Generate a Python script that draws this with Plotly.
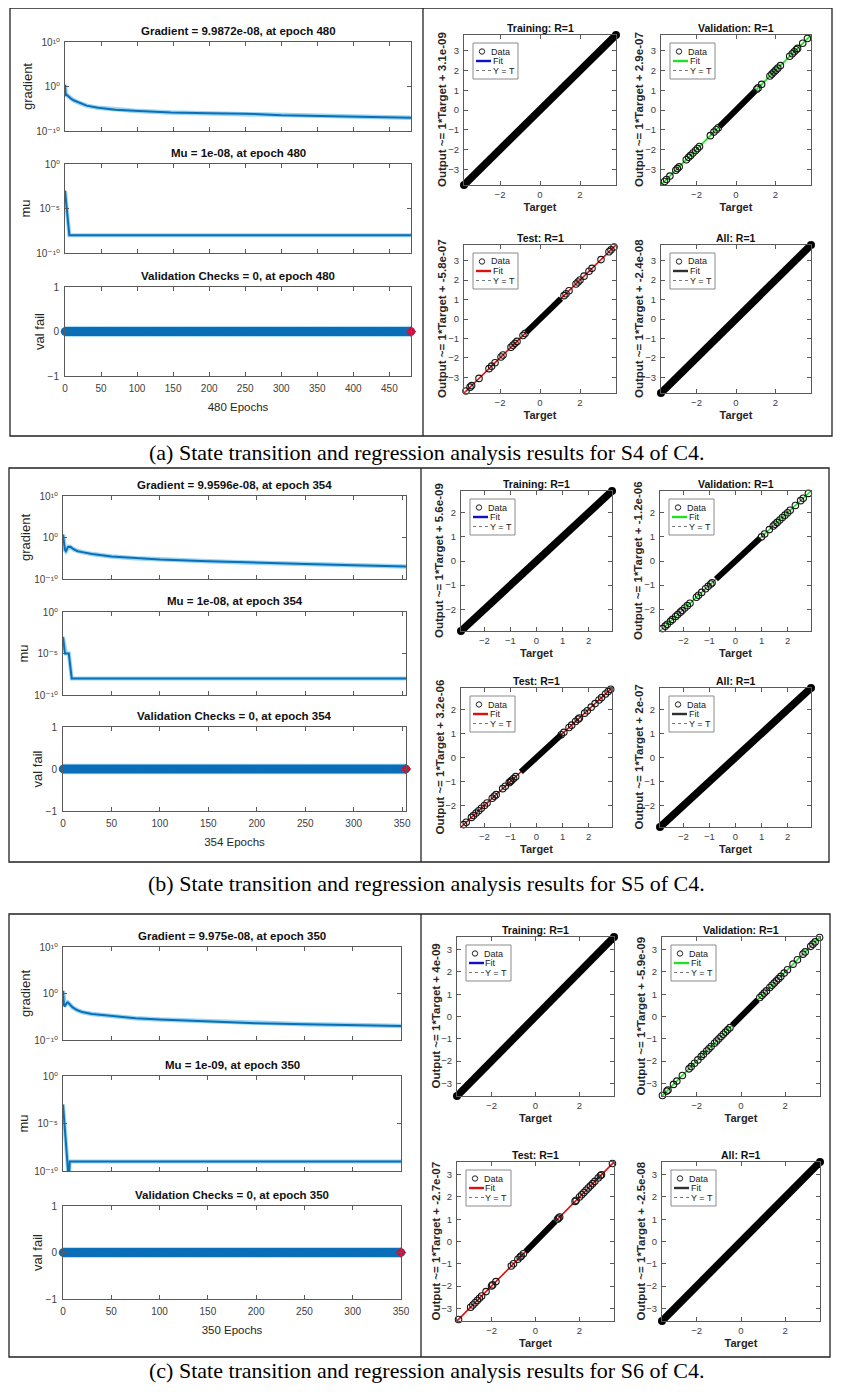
import plotly.graph_objects as go

# ======================= DATA =======================
# ---- (a) S4 of C4 ----
a_total_epochs = 480
a_xticks = [0, 50, 100, 150, 200, 250, 300, 350, 400, 450]
a_grad_epochs = [0, 1, 2, 3, 5, 8, 12, 20, 30, 46, 70, 96, 147, 200, 250, 300, 400, 480]
a_grad = [2.5, 8e-3, 1.5e-2, 1e-2, 6e-3, 2e-3, 8e-4, 2e-4, 5e-5, 1.6e-5, 6e-6, 3.5e-6,
          1.4e-6, 1e-6, 8e-7, 3.5e-7, 1.8e-7, 9.9872e-08]
a_mu_epochs = [0, 1, 2, 3, 4, 5, 6, 480]
a_mu = [1e-3, 1e-4, 1e-5, 1e-5, 1e-6, 1e-7, 1e-8, 1e-8]
a_vf_epochs = list(range(0, 481))
a_vf = [0] * 481
a_best_epoch = [480]
a_best_vf = [0]
a_range = [-3.8, 3.8]
a_reg_xticks = [-2, 0, 2]
a_reg_yticks = [-3, -2, -1, 0, 1, 2, 3]
a_train_T = [-3.8, 3.8]
a_val_T = [-3.62, -3.52, -3.35, -3.05, -2.97, -2.88, -2.52, -2.4, -2.3, -2.18, -2.05, -1.95,
           -1.85, -1.3, -1.12, -1.0, -0.9, 1.05, 1.12, 1.3, 1.72, 1.82, 1.92, 2.02, 2.12, 2.25,
           2.72, 2.85, 2.95, 3.05, 3.12, 3.38, 3.62]
a_val_dense = [-0.85, 1.0]
a_test_T = [-3.7, -3.5, -3.42, -3.05, -2.55, -2.42, -2.25, -1.95, -1.85, -1.45, -1.35, -1.25,
            -1.15, -0.85, -0.75, 1.2, 1.3, 1.45, 1.8, 1.9, 2.0, 2.2, 2.45, 2.6, 3.05, 3.45,
            3.55, 3.7]
a_test_dense = [-0.7, 1.05]
a_all_T = [-3.8, 3.8]
a_offsets = ["3.1e-09", "2.9e-07", "-5.8e-07", "-2.4e-08"]
a_titles = ["Gradient = 9.9872e-08, at epoch 480", "Mu = 1e-08, at epoch 480",
            "Validation Checks = 0, at epoch 480"]
a_caption = "(a) State transition and regression analysis results for S4 of C4."

# ---- (b) S5 of C4 ----
b_total_epochs = 354
b_xticks = [0, 50, 100, 150, 200, 250, 300, 350]
b_grad_epochs = [0, 1, 2, 3, 4, 5, 6, 7, 8, 10, 12, 15, 20, 30, 50, 75, 100, 150, 200, 250, 300, 354]
b_grad = [5, 2e-2, 1e-3, 5e-4, 2e-3, 5e-3, 6e-3, 6e-3, 5e-3, 2e-3, 1e-3, 5e-4, 3e-4, 1e-4,
          2.5e-5, 1e-5, 5e-6, 2e-6, 8e-7, 4e-7, 2e-7, 9.9596e-08]
b_mu_epochs = [0, 1, 2, 3, 4, 5, 6, 7, 8, 9, 354]
b_mu = [1e-3, 1e-4, 1e-5, 1e-5, 1e-5, 1e-5, 1e-5, 1e-6, 1e-7, 1e-8, 1e-8]
b_vf_epochs = list(range(0, 355))
b_vf = [0] * 355
b_best_epoch = [354]
b_best_vf = [0]
b_range = [-2.9, 2.9]
b_reg_xticks = [-2, -1, 0, 1, 2]
b_reg_yticks = [-2, -1, 0, 1, 2]
b_train_T = [-2.9, 2.9]
b_val_T = [-2.8, -2.7, -2.62, -2.5, -2.42, -2.3, -2.22, -2.12, -2.05, -1.95, -1.85, -1.75,
           -1.5, -1.42, -1.3, -1.15, -1.05, -0.95, -0.9, 1.0, 1.12, 1.3, 1.45, 1.52, 1.6, 1.7,
           1.8, 1.9, 2.0, 2.1, 2.3, 2.5, 2.6, 2.8]
b_val_dense = [-0.75, 0.95]
b_test_T = [-2.8, -2.7, -2.5, -2.42, -2.32, -2.22, -2.12, -2.0, -1.9, -1.7, -1.62, -1.55,
            -1.3, -1.2, -1.05, -1.0, -0.95, -0.88, -0.8, 0.95, 1.05, 1.25, 1.35, 1.5, 1.6,
            1.65, 1.85, 1.95, 2.1, 2.25, 2.4, 2.5, 2.65, 2.75, 2.85]
b_test_dense = [-0.6, 0.95]
b_all_T = [-2.9, 2.9]
b_offsets = ["5.6e-09", "-1.2e-06", "3.2e-06", "2e-07"]
b_titles = ["Gradient = 9.9596e-08, at epoch 354", "Mu = 1e-08, at epoch 354",
            "Validation Checks = 0, at epoch 354"]
b_caption = "(b) State transition and regression analysis results for S5 of C4."

# ---- (c) S6 of C4 ----
c_total_epochs = 350
c_xticks = [0, 50, 100, 150, 200, 250, 300, 350]
c_grad_epochs = [0, 1, 2, 3, 4, 5, 6, 8, 10, 15, 20, 30, 50, 75, 100, 150, 200, 250, 300, 350]
c_grad = [4, 3e-3, 2e-3, 5e-3, 1e-2, 1.2e-2, 8e-3, 3e-3, 1e-3, 2.5e-4, 1e-4, 4e-5, 1.5e-5,
          5e-6, 2.5e-6, 1e-6, 4e-7, 2.5e-7, 1.6e-7, 9.975e-08]
c_mu_epochs = [0, 6, 7, 350]
c_mu = [1e-3, 1e-11, 1e-9, 1e-9]
c_vf_epochs = list(range(0, 351))
c_vf = [0] * 351
c_best_epoch = [350]
c_best_vf = [0]
c_range = [-3.57, 3.57]
c_reg_xticks = [-2, 0, 2]
c_reg_yticks = [-3, -2, -1, 0, 1, 2, 3]
c_train_T = [-3.57, 3.57]
c_val_T = [-3.55, -3.35, -3.3, -3.05, -2.9, -2.65, -2.35, -2.25, -2.1, -1.95, -1.8, -1.7,
           -1.55, -1.45, -1.35, -1.2, -1.1, -1.0, -0.9, -0.8, -0.7, -0.6, -0.5, 0.85, 0.95,
           1.05, 1.15, 1.3, 1.4, 1.5, 1.6, 1.7, 1.8, 1.95, 2.1, 2.35, 2.55, 2.8, 2.9, 3.15,
           3.25, 3.35, 3.55]
c_val_dense = [-0.4, 0.75]
c_test_T = [-3.5, -2.95, -2.85, -2.75, -2.65, -2.55, -2.45, -2.25, -2.0, -1.95, -1.8, -1.1,
            -1.0, -0.8, -0.7, -0.65, -0.55, 1.0, 1.05, 1.1, 1.8, 1.85, 2.0, 2.1, 2.2, 2.3,
            2.4, 2.5, 2.6, 2.7, 2.85, 2.95, 3.0, 3.5]
c_test_dense = [-0.45, 0.9]
c_all_T = [-3.57, 3.57]
c_offsets = ["4e-09", "-5.9e-09", "-2.7e-07", "-2.5e-08"]
c_titles = ["Gradient = 9.975e-08, at epoch 350", "Mu = 1e-09, at epoch 350",
            "Validation Checks = 0, at epoch 350"]
c_caption = "(c) State transition and regression analysis results for S6 of C4."

reg_titles = ["Training: R=1", "Validation: R=1", "Test: R=1", "All: R=1"]
fit_colors = ["#1010c8", "#22e022", "#e01010", "#303030"]
grad_ticktext = ["10\u207b\u00b9\u2070", "10\u2070", "10\u00b9\u2070"]
mu_ticktext = ["10\u207b\u00b9\u2070", "10\u207b\u2075", "10\u2070"]

# ======================= STYLE / GEOMETRY (page pixels) =======================
PAGE_W, PAGE_H = 852, 1392
OFF = 8                       # default body margin of the html page
W, H = PAGE_W - 2 * OFF, PAGE_H - 2 * OFF
SANS = "Liberation Sans, Arial, Helvetica, DejaVu Sans, sans-serif"
SERIF = "Liberation Serif, Times New Roman, serif"
BLUE = "#0b6fb8"
HALO = "#9ad5f2"
AXC = "#5a5a5a"
TXT = "#262626"
TICKF = dict(family=SANS, size=10, color="#404040")

GEOM = {
    "a": dict(box=(10, 8, 832, 436), div=423, lx=(65, 411), grad=(42, 131), mu=(164, 253),
              vf=(287, 376), rx=[(464, 616), (661, 811)], ry=[(35, 185), (245, 393)], cap=452),
    "b": dict(box=(9, 468, 829, 862), div=421, lx=(63, 406), grad=(496, 579), mu=(612, 695),
              vf=(727, 811), rx=[(461, 612), (660, 811)], ry=[(491, 631), (688, 827)], cap=883),
    "c": dict(box=(9, 914, 830, 1357), div=421, lx=(63, 401), grad=(947, 1040), mu=(1076, 1171),
              vf=(1206, 1299), rx=[(457, 614), (662, 820)], ry=[(937, 1096), (1162, 1321)], cap=1370.5),
}

fig = go.Figure()
layout = {}
shapes = []
annots = []
n_ax = [0]


def fx(p):
    return (p - OFF) / W


def fy(p):
    return 1 - (p - OFF) / H


def add_axes(x0, x1, y0, y1, xa, ya):
    n_ax[0] += 1
    s = "" if n_ax[0] == 1 else str(n_ax[0])
    base = dict(showline=True, linecolor=AXC, linewidth=1, mirror="ticks", ticks="inside",
                ticklen=4, tickcolor=AXC, showgrid=False, zeroline=False, automargin=False,
                tickfont=TICKF)
    xd = dict(base)
    xd.update(domain=[fx(x0), fx(x1)], anchor="y" + s)
    xd.update(xa)
    yd = dict(base)
    yd.update(domain=[fy(y1), fy(y0)], anchor="x" + s)
    yd.update(ya)
    layout["xaxis" + s] = xd
    layout["yaxis" + s] = yd
    return "x" + s, "y" + s


def add_title(text, x0, x1, ytop, gap, size):
    annots.append(dict(text="<b>" + text + "</b>", x=fx((x0 + x1) / 2), y=fy(ytop - gap),
                       xref="paper", yref="paper", showarrow=False, xanchor="center",
                       yanchor="middle", font=dict(family=SANS, size=size, color="#111111")))


def add_legend(ax_left, ax_top, fit_color, w=45, h=36):
    L, T = ax_left + 9, ax_top + 8
    shapes.append(dict(type="rect", xref="paper", yref="paper", x0=fx(L), x1=fx(L + w),
                       y0=fy(T + h), y1=fy(T), line=dict(color="#8a8a8a", width=1),
                       fillcolor="white", layer="above"))
    cx, cy, r = L + 9, T + 8.5, 2.7
    shapes.append(dict(type="circle", xref="paper", yref="paper", x0=fx(cx - r), x1=fx(cx + r),
                       y0=fy(cy + r), y1=fy(cy - r), line=dict(color="#222222", width=1)))
    shapes.append(dict(type="line", xref="paper", yref="paper", x0=fx(L + 3), x1=fx(L + 18),
                       y0=fy(T + 18), y1=fy(T + 18), line=dict(color=fit_color, width=2.4)))
    shapes.append(dict(type="line", xref="paper", yref="paper", x0=fx(L + 3), x1=fx(L + 18),
                       y0=fy(T + 27.5), y1=fy(T + 27.5),
                       line=dict(color="#777777", width=1, dash="dot")))
    for txt, dy, dx in (("Data", 8.5, 16), ("Fit", 18, 17.5), ("Y = T", 27.5, 17.5)):
        annots.append(dict(text=txt, x=fx(L + dx), y=fy(T + dy), xref="paper", yref="paper",
                           xanchor="left", yanchor="middle", showarrow=False,
                           font=dict(family=SANS, size=9, color="#222222")))


def training_state(g, total, xticks, grad_ep, grad, mu_ep, mu, vf_ep, vf, best_ep, best_vf, titles):
    x0, x1 = g["lx"]
    ylab = dict(family=SANS, size=13, color=TXT)
    # gradient
    xr, yr = add_axes(x0, x1, *g["grad"],
                      dict(range=[0, total], tickvals=xticks, showticklabels=False),
                      dict(type="log", range=[-10, 10], tickvals=[1e-10, 1, 1e10],
                           ticktext=grad_ticktext, ticklabelstandoff=2,
                           title=dict(text="gradient", font=ylab, standoff=0)))
    fig.add_trace(go.Scatter(x=grad_ep, y=grad, mode="lines", line=dict(color=HALO, width=4.5),
                             xaxis=xr, yaxis=yr, showlegend=False, hoverinfo="skip"))
    fig.add_trace(go.Scatter(x=grad_ep, y=grad, mode="lines", line=dict(color=BLUE, width=2),
                             xaxis=xr, yaxis=yr, showlegend=False))
    add_title(titles[0], x0, x1, g["grad"][0], 11, 11.5)
    # mu
    xr, yr = add_axes(x0, x1, *g["mu"],
                      dict(range=[0, total], tickvals=xticks, showticklabels=False),
                      dict(type="log", range=[-10, 0], tickvals=[1e-10, 1e-5, 1],
                           ticktext=mu_ticktext, ticklabelstandoff=2,
                           title=dict(text="mu", font=ylab, standoff=2)))
    fig.add_trace(go.Scatter(x=mu_ep, y=mu, mode="lines", line=dict(color=HALO, width=4),
                             xaxis=xr, yaxis=yr, showlegend=False, hoverinfo="skip"))
    fig.add_trace(go.Scatter(x=mu_ep, y=mu, mode="lines", line=dict(color=BLUE, width=2),
                             xaxis=xr, yaxis=yr, showlegend=False))
    add_title(titles[1], x0, x1, g["mu"][0], 11, 11.5)
    # validation checks
    xr, yr = add_axes(x0, x1, *g["vf"],
                      dict(range=[0, total], tickvals=xticks, ticklabelstandoff=3,
                           title=dict(text=f"{total} Epochs",
                                      font=dict(family=SANS, size=11.5, color=TXT), standoff=9)),
                      dict(range=[-1, 1], tickvals=[-1, 0, 1], ticklabelstandoff=3,
                           title=dict(text="val fail", font=ylab, standoff=0)))
    fig.add_trace(go.Scatter(x=vf_ep, y=vf, mode="lines", line=dict(color=HALO, width=10.5),
                             cliponaxis=False, xaxis=xr, yaxis=yr, showlegend=False, hoverinfo="skip"))
    fig.add_trace(go.Scatter(x=vf_ep, y=vf, mode="lines+markers", line=dict(color=BLUE, width=2),
                             marker=dict(symbol="circle", size=8.5, color=BLUE, line=dict(width=0)),
                             cliponaxis=False, xaxis=xr, yaxis=yr, showlegend=False))
    fig.add_trace(go.Scatter(x=best_ep, y=best_vf, mode="markers",
                             marker=dict(symbol="diamond", size=8, color="#d0103a"),
                             cliponaxis=False, xaxis=xr, yaxis=yr, showlegend=False))
    add_title(titles[2], x0, x1, g["vf"][0], 11, 11.5)


def regression(x0, x1, y0, y1, rng, xt, yt, title, offset, fit_color, pts, dense, full):
    xr, yr = add_axes(x0, x1, y0, y1,
                      dict(range=rng, tickvals=xt, ticklabelstandoff=1,
                           tickfont=dict(family=SANS, size=9.5, color="#404040"),
                           title=dict(text="<b>Target</b>", font=dict(family=SANS, size=11, color=TXT),
                                      standoff=3)),
                      dict(range=rng, tickvals=yt, ticklabelstandoff=2,
                           tickfont=dict(family=SANS, size=9.5, color="#404040")))
    # y-axis label of the regression panel (placed close to the tick labels as in MATLAB)
    annots.append(dict(text="<b>Output ~= 1*Target + " + offset + "</b>", x=fx(x0 - 22),
                       y=fy((y0 + y1) / 2), xref="paper", yref="paper", textangle=-90,
                       showarrow=False, xanchor="center", yanchor="middle",
                       font=dict(family=SANS, size=11.5, color=TXT)))
    fig.add_trace(go.Scatter(x=rng, y=rng, mode="lines", line=dict(color="#777777", width=1, dash="dot"),
                             xaxis=xr, yaxis=yr, showlegend=False, hoverinfo="skip"))
    fig.add_trace(go.Scatter(x=rng, y=rng, mode="lines", line=dict(color=fit_color, width=1.6),
                             xaxis=xr, yaxis=yr, showlegend=False))
    band = pts if full else dense
    fig.add_trace(go.Scatter(x=band, y=band, mode="lines", line=dict(color="#000000", width=7.5 if full else 6),
                             cliponaxis=False, xaxis=xr, yaxis=yr, showlegend=False))
    if full:
        fig.add_trace(go.Scatter(x=pts, y=pts, mode="markers",
                                 marker=dict(symbol="circle", size=8, color="#000000"),
                                 cliponaxis=False, xaxis=xr, yaxis=yr, showlegend=False))
    else:
        fig.add_trace(go.Scatter(x=pts, y=pts, mode="markers",
                                 marker=dict(symbol="circle-open", size=6.5, color="#151515",
                                             line=dict(width=1.1)),
                                 cliponaxis=False, xaxis=xr, yaxis=yr, showlegend=False))
    add_title(title, x0, x1, y0, 7, 10.5)
    add_legend(x0, y0, fit_color)


panels = [
    ("a", a_total_epochs, a_xticks, a_grad_epochs, a_grad, a_mu_epochs, a_mu, a_vf_epochs, a_vf,
     a_best_epoch, a_best_vf, a_titles, a_range, a_reg_xticks, a_reg_yticks,
     [a_train_T, a_val_T, a_test_T, a_all_T], [None, a_val_dense, a_test_dense, None], a_offsets, a_caption),
    ("b", b_total_epochs, b_xticks, b_grad_epochs, b_grad, b_mu_epochs, b_mu, b_vf_epochs, b_vf,
     b_best_epoch, b_best_vf, b_titles, b_range, b_reg_xticks, b_reg_yticks,
     [b_train_T, b_val_T, b_test_T, b_all_T], [None, b_val_dense, b_test_dense, None], b_offsets, b_caption),
    ("c", c_total_epochs, c_xticks, c_grad_epochs, c_grad, c_mu_epochs, c_mu, c_vf_epochs, c_vf,
     c_best_epoch, c_best_vf, c_titles, c_range, c_reg_xticks, c_reg_yticks,
     [c_train_T, c_val_T, c_test_T, c_all_T], [None, c_val_dense, c_test_dense, None], c_offsets, c_caption),
]

for (key, total, xticks, gep, gr, mep, mu, vep, vf, bep, bvf, titles, rng, rxt, ryt,
     sets, denses, offsets, caption) in panels:
    g = GEOM[key]
    bx0, by0, bx1, by1 = g["box"]
    shapes.append(dict(type="rect", xref="paper", yref="paper", x0=fx(bx0), x1=fx(bx1),
                       y0=fy(by1), y1=fy(by0), line=dict(color="#222222", width=1.3)))
    shapes.append(dict(type="line", xref="paper", yref="paper", x0=fx(g["div"]), x1=fx(g["div"]),
                       y0=fy(by1), y1=fy(by0), line=dict(color="#222222", width=1.3)))
    training_state(g, total, xticks, gep, gr, mep, mu, vep, vf, bep, bvf, titles)
    for i in range(4):
        col, row = i % 2, i // 2
        xa0, xa1 = g["rx"][col]
        ya0, ya1 = g["ry"][row]
        regression(xa0, xa1, ya0, ya1, rng, rxt, ryt, reg_titles[i], offsets[i], fit_colors[i],
                   sets[i], denses[i], full=(i in (0, 3)))
    annots.append(dict(text=caption, x=fx(426), y=fy(g["cap"]), xref="paper", yref="paper",
                       showarrow=False, xanchor="center", yanchor="middle",
                       font=dict(family=SERIF, size=22, color="#000000")))

fig.update_layout(**layout)
fig.update_layout(width=W, height=H, margin=dict(l=0, r=0, t=0, b=0), paper_bgcolor="white",
                  plot_bgcolor="white", showlegend=False, shapes=shapes, annotations=annots)
fig.write_html("out.html")
